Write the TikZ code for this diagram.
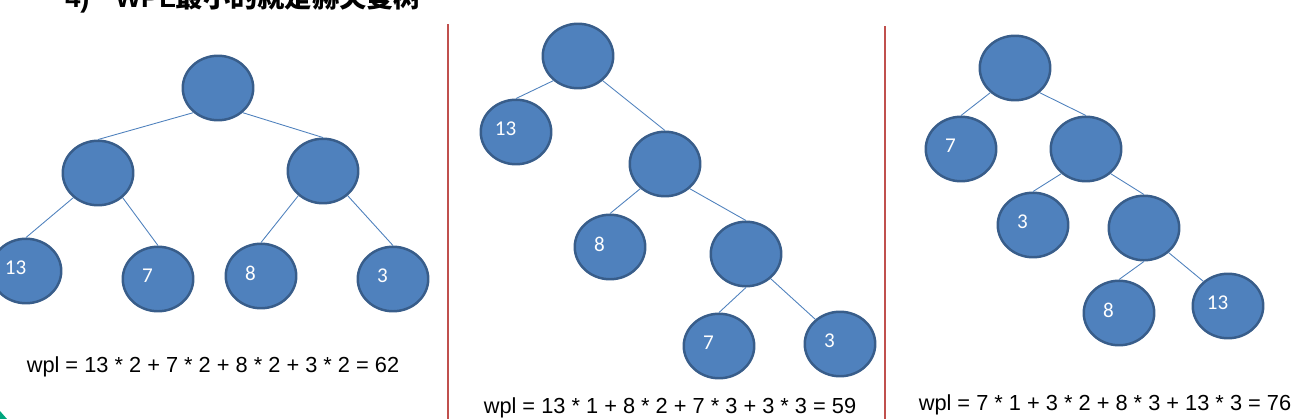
\documentclass[tikz,border=0pt]{standalone}
\usepackage{fontspec}
\setmainfont{Liberation Sans}
\newfontfamily\cjkfont{Noto Sans CJK SC}
\newfontfamily\leaffont{Carlito}
\usepackage{tikz}
\usetikzlibrary{shapes.geometric}
\definecolor{nodeblue}{RGB}{79,129,189}
\definecolor{borderblue}{RGB}{56,93,138}
\definecolor{linkblue}{RGB}{79,129,189}
\definecolor{sepred}{RGB}{192,80,77}
\definecolor{cornergreen}{RGB}{0,166,126}

\begin{document}
\begin{tikzpicture}[
    x=0.02cm, y=-0.02cm,
    hnode/.style={ellipse, draw=borderblue, line width=1.4pt, fill=nodeblue, minimum width=1.41cm, minimum height=1.29cm, inner sep=0pt},
    leaf/.style={hnode, label={[leaflabel]center:#1}},
    leaflabel/.style={text=white, font=\leaffont\fontsize{12}{14}\selectfont, anchor=west, inner sep=0pt, xshift=-0.21cm, yshift=0.06cm},
    link/.style={draw=linkblue, line width=0.5pt},
    sep/.style={draw=sepred, line width=0.6pt},
    wpl/.style={font=\fontsize{12.4}{15}\selectfont, inner sep=0pt},
    titlefont/.style={font=\bfseries\fontsize{15.5}{18}\selectfont, inner sep=0pt}
]
\path[use as bounding box, clip] (0,0) rectangle (1312,419);

% title, cut off at the top
\node[titlefont, anchor=base west] (title) at (65,7.5) {4)\hspace{0.95em}WPL{\cjkfont 最小的就是赫夫曼树}};

% separators
\coordinate (s1top) at (448,24);
\coordinate (s1bot) at (448,419);
\coordinate (s2top) at (885,26);
\coordinate (s2bot) at (885,419);
\draw[sep] (s1top) -- (s1bot);
\draw[sep] (s2top) -- (s2bot);

% first tree
\node[hnode] (a) at (218,88) {};
\node[hnode] (a1) at (98,173) {};
\node[hnode] (a2) at (323,171) {};
\node[leaf=13] (a13) at (26,271) {};
\node[leaf=7] (a7) at (158,279) {};
\node[leaf=8] (a8) at (261,276) {};
\node[leaf=3] (a3) at (393,279) {};
\node[wpl] (wpla) at (213,367) {wpl = 13 * 2 + 7 * 2 + 8 * 2 + 3 * 2 = 62};

\draw[link] (a.225) -- (a1.north);
\draw[link] (a.315) -- (a2.north);
\draw[link] (a1.225) -- (a13.north);
\draw[link] (a1.315) -- (a7.north);
\draw[link] (a2.225) -- (a8.north);
\draw[link] (a2.315) -- (a3.north);

% second tree
\node[hnode] (b) at (578,56) {};
\node[leaf=13] (b13) at (516,132) {};
\node[hnode] (b1) at (665,164) {};
\node[leaf=8] (b8) at (610,247) {};
\node[hnode] (b2) at (746,254) {};
\node[leaf=7] (b7) at (719,346) {};
\node[leaf=3] (b3) at (840,344) {};
\node[wpl] (wplb) at (670,408) {wpl = 13 * 1 + 8 * 2 + 7 * 3 + 3 * 3 = 59};

\draw[link] (b.225) -- (b13.north);
\draw[link] (b.315) -- (b1.north);
\draw[link] (b1.225) -- (b8.north);
\draw[link] (b1.315) -- (b2.north);
\draw[link] (b2.south) -- (b7.north);
\draw[link] (b2.315) -- (b3.135);

% third tree
\node[hnode] (c) at (1015,68) {};
\node[leaf=7] (c7) at (961,149) {};
\node[hnode] (c1) at (1086,149) {};
\node[leaf=3] (c3) at (1033,225) {};
\node[hnode] (c2) at (1144,228) {};
\node[leaf=8] (c8) at (1119,313) {};
\node[leaf=13] (c13) at (1228,306) {};
\node[wpl] (wplc) at (1105,405) {wpl = 7 * 1 + 3 * 2 + 8 * 3 + 13 * 3 = 76};

\draw[link] (c.225) -- (c7.north);
\draw[link] (c.315) -- (c1.north);
\draw[link] (c1.225) -- (c3.north);
\draw[link] (c1.315) -- (c2.north);
\draw[link] (c2.south) -- (c8.north);
\draw[link] (c2.315) -- (c13.135);

% slide corner
\fill[cornergreen] (0,411) -- (7,419) -- (0,419) -- cycle;

\end{tikzpicture}
\end{document}
